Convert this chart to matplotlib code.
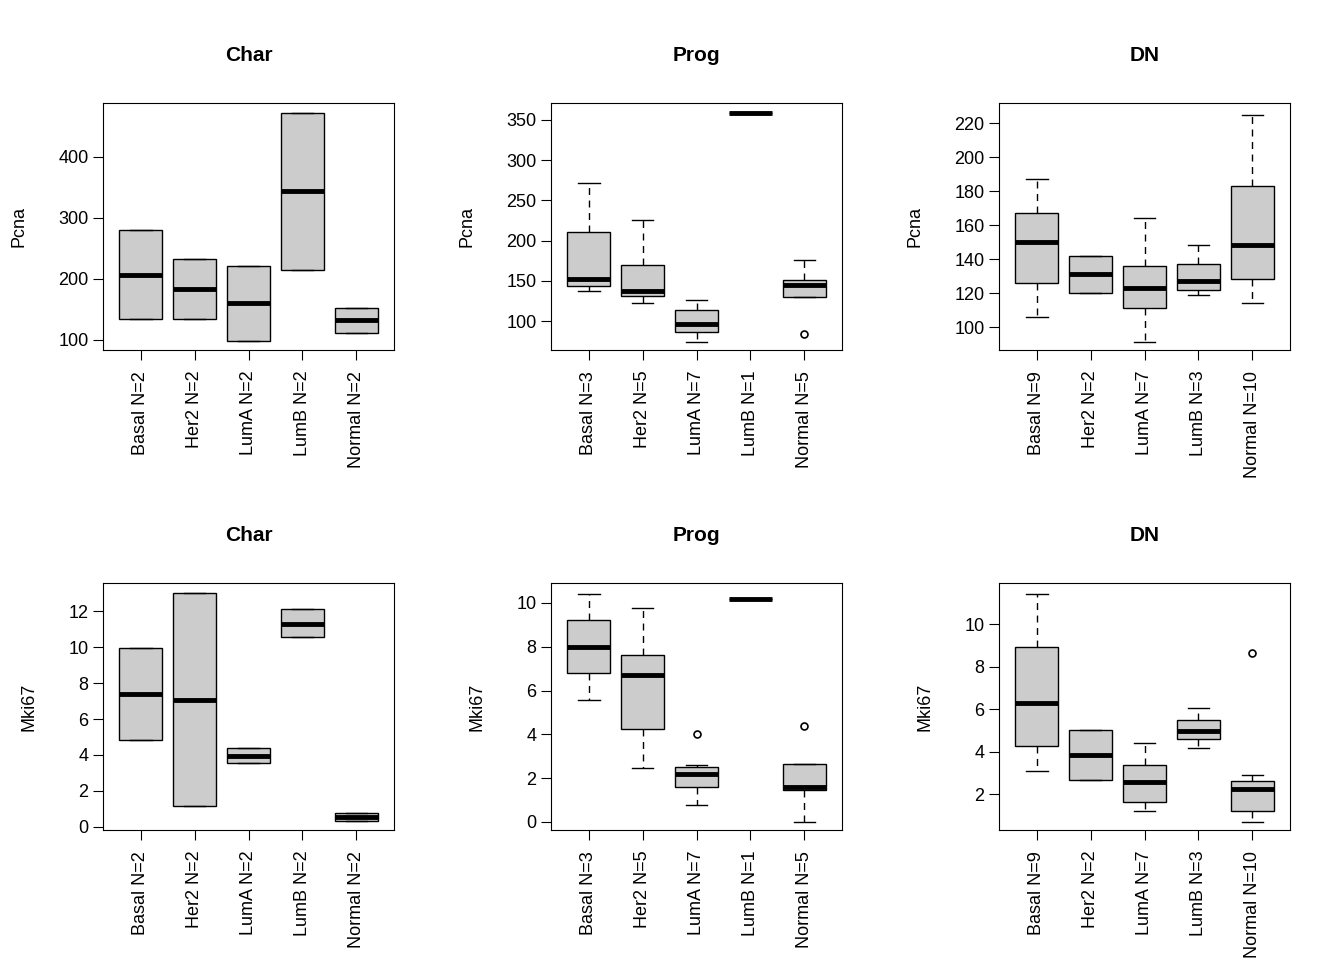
import matplotlib.pyplot as plt

plt.rcParams['font.family'] = ['Liberation Sans', 'DejaVu Sans']

groups = ["Basal", "Her2", "LumA", "LumB", "Normal"]
titles = ["Char", "Prog", "DN"]
genes = ["Pcna", "Mki67"]
counts = {"Char": [2, 2, 2, 2, 2], "Prog": [3, 5, 7, 1, 5], "DN": [9, 2, 7, 3, 10]}

# (whislo, q1, med, q3, whishi, fliers) per group
pcna_char = [(135, 135, 207, 280, 280, []), (134, 134, 183, 233, 233, []), (98, 98, 160, 221, 221, []),
             (215, 215, 344, 472, 472, []), (111, 111, 133, 153, 153, [])]
pcna_prog = [(137, 144, 152, 211, 271, []), (123, 131, 137, 170, 226, []), (74, 86, 96, 114, 126, []),
             (359, 359, 359, 359, 359, []), (130, 130, 145, 151, 176, [84])]
pcna_dn = [(106, 126, 150, 167, 187, []), (120, 120, 131, 142, 142, []), (91, 111, 123, 136, 164, []),
           (119, 122, 127, 137, 148, []), (114, 128, 148, 183, 225, [])]
mki_char = [(4.85, 4.85, 7.4, 9.95, 9.95, []), (1.15, 1.15, 7.05, 13.0, 13.0, []), (3.55, 3.55, 3.95, 4.4, 4.4, []),
            (10.55, 10.55, 11.3, 12.1, 12.1, []), (0.35, 0.35, 0.55, 0.8, 0.8, [])]
mki_prog = [(5.55, 6.8, 8.0, 9.2, 10.4, []), (2.45, 4.25, 6.7, 7.6, 9.75, []), (0.75, 1.6, 2.2, 2.5, 2.6, [4.0]),
            (10.2, 10.2, 10.2, 10.2, 10.2, []), (0.0, 1.45, 1.6, 2.65, 2.65, [4.4])]
mki_dn = [(3.1, 4.25, 6.3, 8.9, 11.4, []), (2.65, 2.65, 3.85, 5.0, 5.0, []), (1.2, 1.65, 2.55, 3.35, 4.4, []),
          (4.15, 4.6, 4.95, 5.5, 6.05, []), (0.7, 1.2, 2.25, 2.6, 2.9, [8.65])]

data = [[pcna_char, pcna_prog, pcna_dn], [mki_char, mki_prog, mki_dn]]
ylims = [[(83.6, 488.5), (64, 371), (86.5, 231.8)], [(-0.17, 13.56), (-0.37, 10.91), (0.31, 11.93)]]
yticks = [[range(100, 401, 100), range(100, 351, 50), range(100, 221, 20)],
          [range(0, 13, 2), range(0, 11, 2), range(2, 11, 2)]]

W, H = 1344, 960
fig = plt.figure(figsize=(13.44, 9.6), dpi=100)
lefts = [103, 551, 999]
tops = [103, 583]
for r in range(2):
    for c in range(3):
        ax = fig.add_axes([lefts[c] / W, 1 - (tops[r] + 247) / H, 291 / W, 247 / H])
        stats = []
        for g, n, s in zip(groups, counts[titles[c]], data[r][c]):
            stats.append(dict(whislo=s[0], q1=s[1], med=s[2], q3=s[3], whishi=s[4], fliers=s[5],
                              label=f"{g} N={n}"))
        ax.bxp(stats, widths=0.8, patch_artist=True, showfliers=True,
               boxprops=dict(facecolor="#cccccc", edgecolor="black", linewidth=1),
               medianprops=dict(color="black", linewidth=3.5, solid_capstyle="butt"),
               whiskerprops=dict(linestyle=(0, (5, 4)), linewidth=1),
               capprops=dict(linewidth=1), capwidths=0.4,
               flierprops=dict(marker="o", markersize=5, markerfacecolor="none",
                               markeredgecolor="black", markeredgewidth=1.2))
        ax.set_xlim(0.3, 5.7)
        ax.set_ylim(*ylims[r][c])
        ax.set_yticks(list(yticks[r][c]))
        ax.tick_params(axis="x", labelrotation=90, labelsize=13, length=7, pad=8)
        ax.tick_params(axis="y", labelsize=13, length=7)
        ax.set_title(titles[c], fontsize=15, fontweight="bold", pad=30)
        ax.set_ylabel(genes[r], fontsize=13, labelpad=22)

fig.savefig("out.png", dpi=100)
